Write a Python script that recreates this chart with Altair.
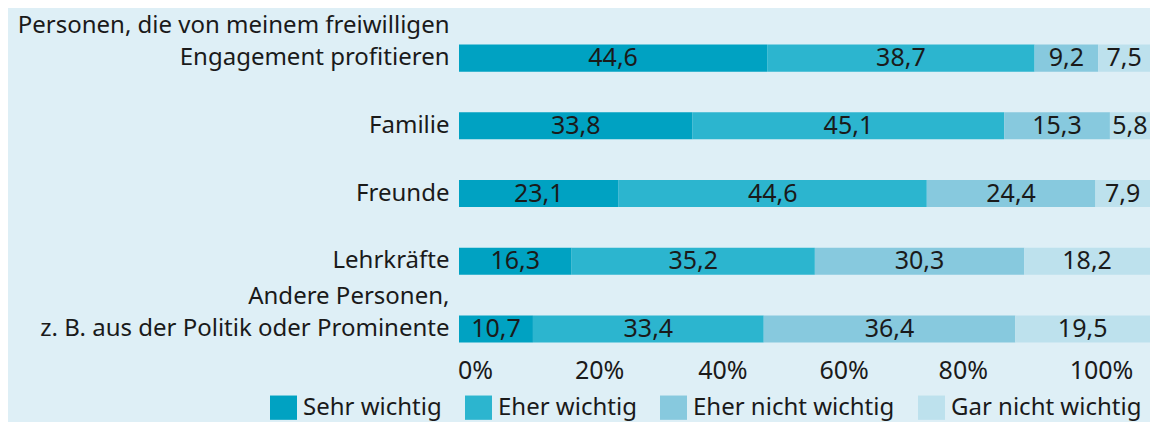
import altair as alt
import pandas as pd

categories = [
    "Personen, die von meinem freiwilligen|Engagement profitieren",
    "Familie",
    "Freunde",
    "Lehrkräfte",
    "Andere Personen,|z. B. aus der Politik oder Prominente",
]
series = ["Sehr wichtig", "Eher wichtig", "Eher nicht wichtig", "Gar nicht wichtig"]
sehr_wichtig = [44.6, 33.8, 23.1, 16.3, 10.7]
eher_wichtig = [38.7, 45.1, 44.6, 35.2, 33.4]
eher_nicht_wichtig = [9.2, 15.3, 24.4, 30.3, 36.4]
gar_nicht_wichtig = [7.5, 5.8, 7.9, 18.2, 19.5]
colors = ["#00a2c2", "#2cb5cf", "#87c9de", "#bde1ed"]
tick_values = [0, 20, 40, 60, 80, 100]
tick_label_shift = [16, 2, -13, -30, -49, -49]

FONT = "Noto Sans"
FS = 25
YFS = 24
LH = 32
TXT = "#1a1a1a"
BG = "#deeff6"

rows = []
for s_idx, (s, vals) in enumerate(zip(series, [sehr_wichtig, eher_wichtig, eher_nicht_wichtig, gar_nicht_wichtig])):
    for c, v in zip(categories, vals):
        rows.append({"category": c, "series": s, "value": v, "order": s_idx})
df = pd.DataFrame(rows)

base = alt.Chart(df).transform_stack(
    stack="value", groupby=["category"], as_=["x0", "x1"],
    sort=[alt.SortField("order", order="ascending")],
).transform_calculate(
    mid="(datum.x0 + datum.x1) / 2",
    lbl="replace(format(datum.value, '.1f'), '.', ',')",
)

# every label is a two-line block (empty first line for single-line labels),
# shifted up by one line so that the last line sits on the bar's centre
y_enc = alt.Y(
    "category:N", sort=categories, title=None,
    scale=alt.Scale(paddingInner=0.6, paddingOuter=0.2),
    axis=alt.Axis(
        domain=False, ticks=False, labelPadding=10, labelLimit=0,
        labelExpr="indexof(datum.label, '|') >= 0 ? split(datum.label, '|') : ['', datum.label]",
        labelLineHeight=LH, labelOffset=-LH,
        labelFont=FONT, labelFontSize=YFS, labelColor=TXT,
    ),
)

x_offset_cond = [
    {"test": f"datum.value == {v}", "value": o} for v, o in zip(tick_values, tick_label_shift)
]

bars = base.mark_bar().encode(
    x=alt.X(
        "x0:Q", title=None,
        scale=alt.Scale(domain=[0, 100], nice=False),
        axis=alt.Axis(
            values=tick_values, labelExpr="datum.value + '%'", domain=False, ticks=False,
            grid=False, labelPadding=2, labelFont=FONT, labelFontSize=FS, labelColor=TXT,
            labelFlush=False, labelOverlap=False,
            labelOffset={"condition": x_offset_cond, "value": 0},
        ),
    ),
    x2="x1:Q",
    y=y_enc,
    color=alt.Color(
        "series:N", sort=series, title=None,
        scale=alt.Scale(domain=series, range=colors),
        legend=alt.Legend(
            orient="none", direction="horizontal", legendX=-189, legendY=363,
            symbolType="M-1,-0.9H1V0.9H-1Z", symbolSize=729, symbolStrokeWidth=0,
            symbolOpacity=1, labelFont=FONT, labelFontSize=24, labelColor=TXT,
            labelOffset=6, columnPadding=23, labelLimit=0,
        ),
    ),
    order=alt.Order("order:Q"),
)

texts = base.mark_text(font=FONT, fontSize=FS, color=TXT, baseline="middle", align="center").encode(
    x=alt.X("mid:Q"),
    y=alt.Y("category:N", sort=categories),
    text="lbl:N",
)

chart = alt.layer(bars, texts).properties(
    width=691, height=325, background=BG,
    autosize=alt.AutoSizeParams(type="none"),
    padding={"left": 451, "top": 23, "right": 0, "bottom": 66},
).configure_view(stroke=None)

chart.save("out.html", embed_options={"renderer": "svg", "actions": False})
